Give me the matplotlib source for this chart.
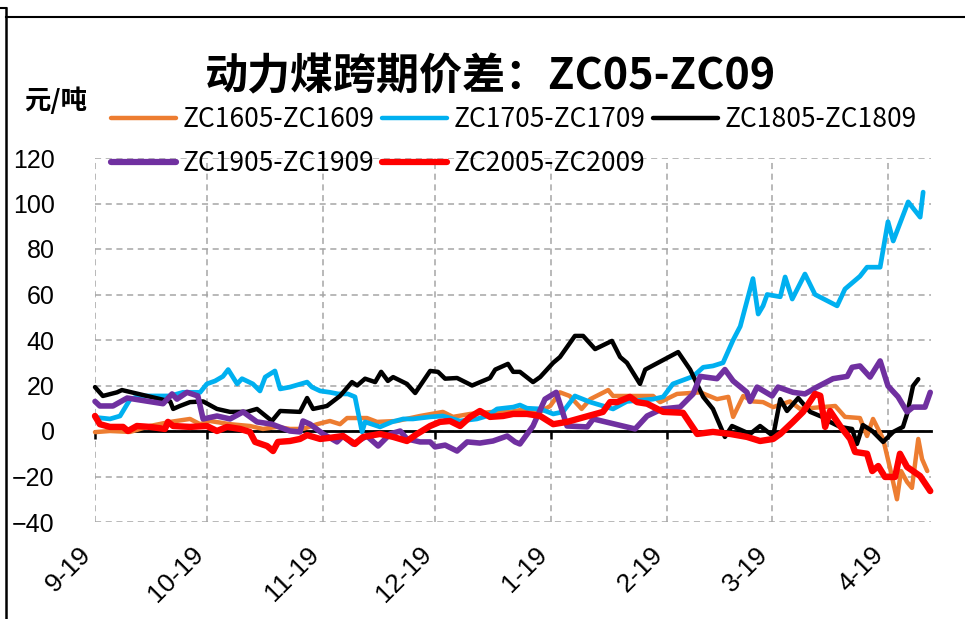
import matplotlib
matplotlib.use("Agg")
import matplotlib.pyplot as plt
from matplotlib.lines import Line2D
from matplotlib.transforms import ScaledTranslation

# ---------------- data (x = days after 9-19) ----------------
tick_days = [0, 30, 61, 91, 122, 153, 181, 212]
tick_labels = ["9-19", "10-19", "11-19", "12-19", "1-19", "2-19", "3-19", "4-19"]
yticks = [-40, -20, 0, 20, 40, 60, 80, 100, 120]

names = ["ZC1605-ZC1609", "ZC1705-ZC1709", "ZC1805-ZC1809", "ZC1905-ZC1909", "ZC2005-ZC2009"]
colors = ["#ED7D31", "#00B0F0", "#000000", "#7030A0", "#FF0000"]

x16 = [0, 4.0, 9.4, 14.7, 20.1, 25.4, 28.1, 30.7, 36.1, 41.4, 44.9, 48.7, 52.1, 55.6, 59.4, 62.8,
       65.5, 67.4, 72.7, 75.4, 80.7, 86.9, 93.0, 95.7, 100.3, 106.4, 111.0, 115.5, 119.0, 121.7,
       124.3, 126.9, 130.1, 132.4, 137.2, 138.5, 149.2, 151.1, 155.6, 161.8, 166.3, 169.3, 170.6,
       173.3, 175.9, 178.6, 181.3, 185.8, 188.5, 194.4, 197.9, 200.5, 204.5, 206.4, 208.0, 210.7,
       212.6, 214.4, 215.5, 217.1, 218.4, 220.1, 221.1, 222.5]
y16 = [-0.5, 0, -0.4, 2.2, 4, 5.3, 3, 4.4, 3, 2.2, 0.9, 1.8, 0.9, 0.9, 3, 4.4,
       3, 5.7, 5.7, 4, 4.4, 6.6, 8.4, 6.2, 7.5, 8.4, 8.4, 9.7, 8.4, 11,
       17, 15.4, 9.7, 14, 18, 15.4, 15.4, 12.7, 16.3, 17, 14, 15, 6.2,
       15.4, 13, 12.7, 10.5, 13, 9.7, 10.5, 11, 6.2, 5.7, -2.2, 5.3, -3.5,
       -16.7, -30, -17.6, -22.4, -25, -3.5, -12.3, -17.6]

x17 = [0, 4.0, 6.7, 9.4, 12.0, 20.1, 23.5, 28.1, 29.9, 32.1, 34.2, 35.6, 38.0, 39.3, 42.2, 44.1,
       45.5, 48.1, 49.5, 52.1, 56.7, 58.0, 60.2, 62.8, 65.0, 67.6, 69.5, 71.4, 72.2, 76.2, 79.4,
       82.4, 85.0, 89.6, 93.0, 97.6, 102.1, 104.8, 107.5, 111.8, 113.6, 115.5, 119.0, 122.5, 125.1,
       128.3, 132.4, 138.5, 142.2, 149.2, 151.9, 154.5, 159.9, 162.6, 165.2, 167.9, 170.6, 172.5,
       175.9, 177.3, 178.6, 179.7, 183.2, 184.5, 186.4, 189.8, 192.5, 198.4, 200.5, 204.5, 206.4,
       209.9, 212.0, 213.4, 217.4, 220.6, 221.4]
y17 = [6, 5.3, 6.6, 14, 15.4, 15.4, 17, 17, 20.7, 22, 24, 27, 20.7, 23, 20.7, 17.6,
       23.7, 26.4, 18.5, 19.3, 21.5, 19.3, 17.6, 17, 16.3, 16.3, 15, -0.4, 4, 1.8, 4,
       5.3, 5.3, 6.2, 6.6, 4.4, 5.3, 6.6, 9.7, 10.5, 11.4, 10, 9.7, 7.5, 8.4,
       15.4, 12.7, 9.7, 13, 14, 15, 20.7, 24, 28, 28.6, 30, 40, 46,
       67, 51.4, 55, 60, 59, 67.7, 58, 69, 60, 55, 62.4, 68, 72,
       72, 92, 83.5, 100.7, 94, 105]

x18 = [0, 2.1, 5.9, 7.2, 20.1, 20.9, 22.7, 25.4, 28.9, 32.6, 36.1, 40.6, 43.3, 47.3, 49.5, 54.8,
       56.7, 58.3, 62.0, 65.5, 68.7, 70.1, 72.2, 74.9, 76.5, 78.3, 79.7, 83.4, 85.6, 89.6, 91.7,
       93.6, 96.8, 100.8, 105.6, 107.0, 110.4, 111.8, 113.6, 117.1, 119.0, 122.5, 124.3, 128.3,
       130.5, 133.7, 138.2, 140.4, 142.2, 145.7, 147.1, 155.9, 159.1, 162.6, 165.2, 168.4, 170.3,
       175.1, 177.8, 181.3, 183.2, 185.0, 188.0, 191.2, 194.4, 196.5, 199.2, 202.4, 203.7, 205.3,
       207.8, 210.7, 213.4, 216.0, 217.1, 218.7, 220.1]
y18 = [19.3, 15.4, 17, 18, 13, 9.7, 11, 12.7, 13, 9.7, 8.4, 8.4, 9.7, 4.4, 8.8, 8.4,
       14.5, 9.7, 11, 15.4, 21.5, 20, 23, 21.5, 26, 22, 23.7, 20.7, 16.7, 26.4, 26,
       23, 23.3, 20, 23.3, 27, 29.5, 26, 26, 21.5, 23.7, 30, 32.5, 41.8,
       41.8, 36, 39.6, 32.5, 30, 20.7, 27, 34.7, 27, 15, 9.7, -2.6, 2.2,
       -1.3, 2.2, -2.2, 14, 8.8, 14.5, 8.4, 6.2, 4, 1.8, 0.9, -5.7, 2.6,
       0, -4.8, -0.4, 1.8, 7.5, 19.8, 22.8]

x19 = [0, 1.3, 4.8, 8.6, 18.2, 20.6, 21.9, 24.6, 27.5, 28.9, 32.6, 36.1, 39.6, 43.3, 47.3, 52.1,
       54.8, 55.6, 57.5, 61.0, 64.7, 66.3, 69.0, 72.7, 75.7, 78.9, 81.6, 83.4, 86.9, 89.6, 90.9,
       93.6, 96.8, 99.5, 102.9, 106.4, 110.2, 112.3, 113.6, 117.1, 120.3, 123.3, 126.2, 131.6,
       133.2, 144.4, 147.6, 151.6, 156.4, 159.9, 161.8, 166.3, 168.4, 170.6, 174.3, 175.1, 177.0,
       181.0, 182.6, 186.6, 189.8, 193.0, 197.3, 201.1, 202.4, 204.5, 207.2, 209.9, 212.0, 214.7,
       217.1, 218.7, 221.9, 223.3]
y19 = [13, 11, 11, 14.5, 12, 16.3, 14, 17, 15.4, 5.3, 6.6, 5.3, 8.4, 4, 3, 0,
       -0.4, 4.4, 3, -1.3, -4.8, -2.2, -5.7, -2.2, -6.6, -1.3, 0, -3.5, -4.8, -4.8, -7,
       -6.2, -8.8, -4.8, -5.3, -4.4, -2.2, -4.8, -5.7, 2.2, 14, 17, 2.2, 1.8,
       5.3, 0.9, 6.6, 9.7, 10.5, 16.3, 24, 23, 27, 22, 17, 13, 19.3,
       15.4, 19.3, 17, 16.3, 19.3, 23, 24, 28, 28.6, 23.7, 30.8, 19.8, 15,
       8.4, 10.5, 10.5, 17]

x20 = [0, 1.3, 4.0, 7.5, 8.8, 11.2, 14.7, 18.7, 19.5, 20.9, 25.4, 29.9, 32.6, 35.3, 38.8, 41.4,
       42.8, 46.0, 47.6, 48.9, 52.1, 54.8, 56.7, 60.2, 62.8, 66.3, 69.5, 71.7, 76.2, 79.7, 83.4,
       86.1, 89.6, 92.2, 94.9, 97.6, 100.3, 102.9, 105.6, 109.1, 111.8, 115.5, 119.0, 122.5, 126.2,
       135.8, 137.7, 139.6, 143.0, 144.9, 147.6, 151.9, 157.2, 161.0, 165.2, 169.8, 174.3, 177.8,
       181.3, 183.2, 186.6, 189.3, 192.5, 193.9, 195.2, 196.5, 199.2, 201.9, 203.2, 206.4, 207.8,
       209.4, 211.2, 213.9, 215.2, 217.1, 220.6, 223.3]
y20 = [6.6, 3, 1.8, 1.8, 0, 2.2, 1.8, 0.9, 4, 2.2, 1.8, 2.2, 0, 1.8, 0.9, -0.4,
       -4.8, -6.6, -8.8, -4.8, -4.4, -3.5, -1.8, -3.5, -3, -2.2, -5.7, -2.6, -1.3, -2.6, -4.4,
       -1.3, 2.2, 4, 4.4, 2.2, 6.2, 8.8, 6.2, 6.6, 7.5, 7.5, 6.6, 3, 4,
       8.4, 12.7, 12.7, 15, 12.7, 12, 8.4, 8, -1.3, -0.4, -1.3, -2.6, -4.4,
       -3.5, -1.3, 4, 8.4, 16.3, 15.5, 1.8, 8.8, 2.2, -3.5, -9.2, -10, -17.6,
       -15.4, -20.2, -20.2, -10, -15.8, -19.8, -26.4]

series_x = [x16, x17, x18, x19, x20]
series_y = [y16, y17, y18, y19, y20]
widths = [3.2, 3.4, 3.2, 4.0, 4.6]

# ---------------- figure ----------------
plt.rcParams["ytick.major.pad"] = 29
plt.rcParams["xtick.major.pad"] = 80
W, H = 965, 619
fig = plt.figure(figsize=(W / 100, H / 100), dpi=100)
num_font = "Liberation Sans"
cjk = ["Noto Sans CJK SC", "DejaVu Sans"]

ax = fig.add_axes([95 / W, 1 - 522 / H, (931 - 95) / W, (522 - 158) / H])

# axis styling first (spine positioning resets tick labels)
for s in ["top", "right", "left"]:
    ax.spines[s].set_visible(False)
ax.spines["bottom"].set_position(("data", 0))
ax.spines["bottom"].set_linewidth(2.0)
ax.spines["bottom"].set_zorder(2)

for i in range(5):
    ax.plot(series_x[i], series_y[i], color=colors[i], lw=widths[i],
            solid_joinstyle="round", solid_capstyle="round", zorder=3 + i, clip_on=False)

ax.set_xlim(0, 223.5)
ax.set_ylim(-40, 120)
ax.set_xticks(tick_days)
ax.set_xticklabels(tick_labels, rotation=45, ha="right", va="center",
                   rotation_mode="anchor", fontsize=19, family=num_font)
ax.set_yticks(yticks)
ax.set_yticklabels([str(v) if v >= 0 else "\u2212" + str(-v) for v in yticks],
                   fontsize=18, family=num_font)

ax.tick_params(axis="x", direction="out", length=6, width=1.8, pad=80, colors="black")
ax.tick_params(axis="y", length=0, pad=29)
ax.grid(True, color="#A6A6A6", linestyle=(0, (4, 3)), linewidth=1.1)
ax.set_axisbelow(True)

shift = ScaledTranslation(-8 / 100, 0, fig.dpi_scale_trans)
for lab in ax.get_xticklabels():
    lab.set_transform(lab.get_transform() + shift)

# legend (row-wise order like the reference)
lw_leg = [3.2, 3.2, 3.2, 4.5, 4.5]
handles = [Line2D([0], [0], color=colors[i], lw=lw_leg[i], solid_capstyle="round") for i in range(5)]
order = [0, 3, 1, 4, 2]
fig.legend([handles[i] for i in order], [names[i] for i in order], ncol=3, loc="upper left",
           bbox_to_anchor=(111 / W, 1 - 106 / H), frameon=False,
           prop={"family": cjk, "size": 19}, handlelength=2.45, handletextpad=0.25,
           columnspacing=0.3, labelspacing=0.65, borderpad=0, borderaxespad=0)

# title and unit
fig.text(491 / W, 1 - 76 / H, "动力煤跨期价差：ZC05-ZC09", ha="center", va="center",
         fontsize=31, fontweight="bold", family=cjk)
fig.text(56 / W, 1 - 101 / H, "元/吨", ha="center", va="center",
         fontsize=19, fontweight="bold", family=cjk)

# outer frame lines
fig.add_artist(Line2D([6 / W, 6 / W], [0, 1 - 8 / H], color="black", lw=1.8, transform=fig.transFigure))
fig.add_artist(Line2D([0, 6 / W], [1 - 8 / H, 1 - 8 / H], color="black", lw=1.5, transform=fig.transFigure))
fig.add_artist(Line2D([6 / W, 1], [1 - 17 / H, 1 - 17 / H], color="black", lw=1.5, transform=fig.transFigure))

fig.savefig("out.png", dpi=100)
